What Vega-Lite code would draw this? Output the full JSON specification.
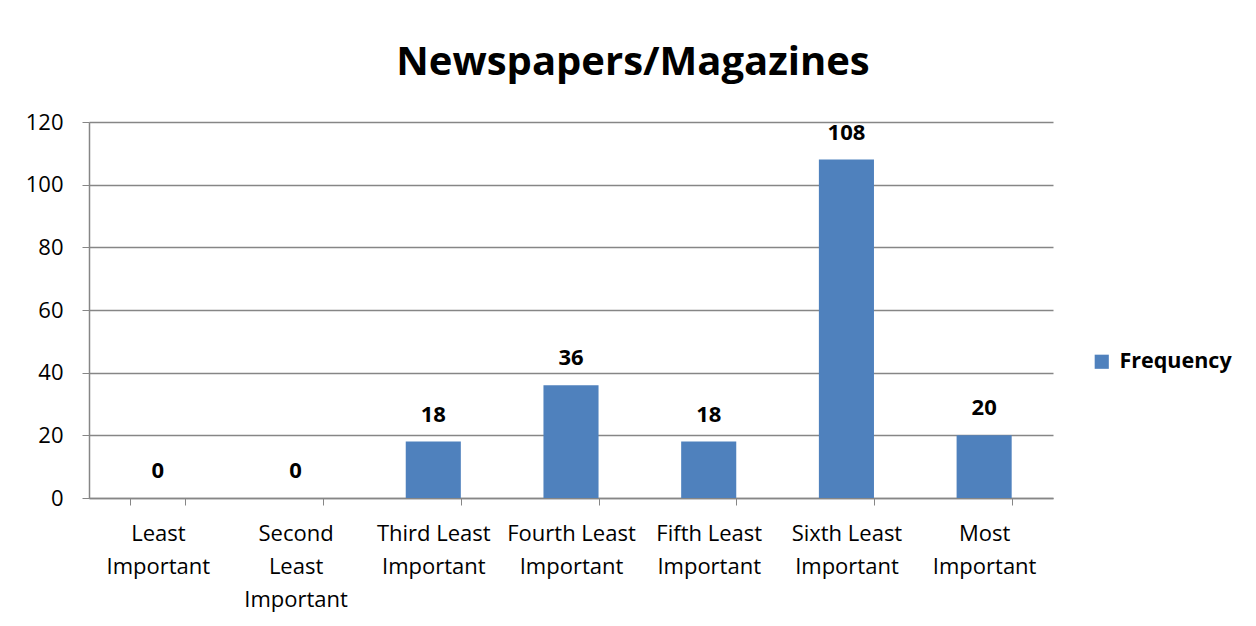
{
  "$schema": "https://vega.github.io/schema/vega-lite/v6.json",
  "width": 964,
  "height": 376,
  "autosize": {"type": "none"},
  "padding": {"left": 89, "top": 122, "right": 203, "bottom": 128},
  "background": "white",
  "config": {
    "font": "Open Sans",
    "view": {"stroke": null}
  },
  "title": {
    "text": "Newspapers/Magazines",
    "fontSize": 40,
    "fontWeight": "bold",
    "font": "Open Sans",
    "color": "#000000",
    "anchor": "middle",
    "dx": 62,
    "offset": 28
  },
  "data": {
    "values": [
      {"category": "Least Important", "series": "Frequency", "value": 0},
      {"category": "Second Least Important", "series": "Frequency", "value": 0},
      {"category": "Third Least Important", "series": "Frequency", "value": 18},
      {"category": "Fourth Least Important", "series": "Frequency", "value": 36},
      {"category": "Fifth Least Important", "series": "Frequency", "value": 18},
      {"category": "Sixth Least Important", "series": "Frequency", "value": 108},
      {"category": "Most Important", "series": "Frequency", "value": 20}
    ]
  },
  "encoding": {
    "x": {
      "field": "category",
      "type": "nominal",
      "sort": null,
      "scale": {"paddingInner": 0.6, "paddingOuter": 0.3},
      "axis": {
        "title": null,
        "labelAngle": 0,
        "labelFontSize": 22,
        "labelColor": "#000000",
        "labelLineHeight": 33,
        "labelPadding": 18,
        "labelBaseline": "top",
        "tickBand": "extent",
        "tickSize": 7,
        "tickColor": "#868686",
        "domainColor": "#868686",
        "domainWidth": 1.5,
        "labelExpr": "datum.label == 'Second Least Important' ? ['Second', 'Least', 'Important'] : split(replace(datum.label, ' Important', '|Important'), '|')"
      }
    },
    "y": {
      "field": "value",
      "type": "quantitative",
      "scale": {"domain": [0, 120]},
      "axis": {
        "title": null,
        "values": [0, 20, 40, 60, 80, 100, 120],
        "labelFontSize": 22,
        "labelColor": "#000000",
        "labelPadding": 19,
        "tickSize": 7,
        "tickColor": "#868686",
        "domainColor": "#868686",
        "domainWidth": 1.5,
        "gridColor": "#868686",
        "gridWidth": 1.5
      }
    }
  },
  "layer": [
    {
      "mark": {"type": "bar", "color": "#4F81BD"},
      "encoding": {
        "color": {
          "field": "series",
          "type": "nominal",
          "scale": {"range": ["#4F81BD"]},
          "legend": {
            "title": null,
            "orient": "none",
            "legendX": 1002,
            "legendY": 229,
            "symbolType": "square",
            "symbolSize": 200,
            "labelFontSize": 21.5,
            "labelFontWeight": "bold",
            "labelColor": "#000000",
            "labelOffset": 7
          }
        }
      }
    },
    {
      "mark": {"type": "text", "fontSize": 22, "fontWeight": "bold", "baseline": "bottom", "dy": -15, "color": "#000000"},
      "encoding": {
        "text": {"field": "value", "type": "quantitative"}
      }
    }
  ]
}
